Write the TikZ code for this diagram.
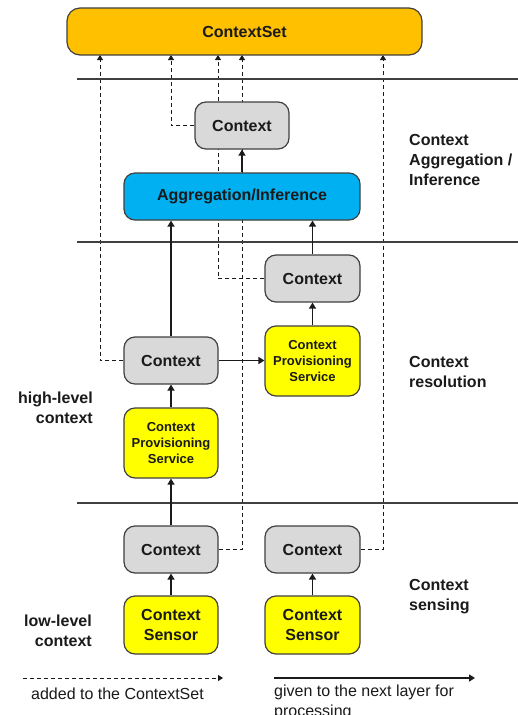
\documentclass[tikz,border=0pt]{standalone}
\usepackage{fontspec}
\setmainfont{Liberation Sans}
\usetikzlibrary{arrows.meta}
\pgfdeclarelayer{bg}
\pgfsetlayers{bg,main}

\definecolor{setorange}{HTML}{FFC000}
\definecolor{infblue}{HTML}{00B0F0}
\definecolor{ctxgray}{HTML}{D9D9D9}
\definecolor{svcyellow}{HTML}{FFFF00}
\definecolor{edge}{HTML}{404040}
\definecolor{ink}{HTML}{1A1A1A}

\tikzset{
  box/.style={draw=edge, line width=1.2pt, rounded corners=11pt, inner sep=0pt,
    align=center, text=ink, font=\fontsize{16}{19}\selectfont\bfseries},
  ctxbox/.style={box, fill=ctxgray, minimum width=94pt, minimum height=47pt},
  svcbox/.style={box, fill=svcyellow, minimum width=94pt, minimum height=70pt,
    font=\fontsize{13}{16}\selectfont\bfseries},
  sensbox/.style={box, fill=svcyellow, minimum width=94pt, minimum height=58pt,
    font=\fontsize{16}{20}\selectfont\bfseries},
  layerline/.style={draw=edge, line width=1.2pt},
  flow/.style={draw=ink, line width=1.6pt, -{Triangle[width=7pt,length=6pt]}},
  feed/.style={draw=ink, line width=0.9pt, dash pattern=on 4pt off 3pt,
    -{Triangle[width=6pt,length=5pt]}},
  lbl/.style={font=\fontsize{16}{20}\selectfont\bfseries, text=ink, inner sep=0pt},
  legend/.style={font=\fontsize{16}{20}\selectfont, text=ink, inner sep=0pt, align=left},
}

\begin{document}
\begin{tikzpicture}[x=1pt,y=-1pt]
\clip (0,0) rectangle (518,715);
\begin{pgfonlayer}{bg}
\fill[white] (0,0) rectangle (518,715);
\end{pgfonlayer}

% layer separators
\draw[layerline] (77,79) -- (518,79);
\draw[layerline] (77,242) -- (518,242);
\draw[layerline] (77,503) -- (518,503);

% boxes
\node[box, fill=setorange, minimum width=355pt, minimum height=47pt, rounded corners=13pt]
  (ctxSet) at (244.5,31.5) {ContextSet};
\node[ctxbox] (ctxTop) at (242,125.5) {Context};
\node[box, fill=infblue, minimum width=236pt, minimum height=47pt]
  (agg) at (242,196.5) {Aggregation/Inference};
\node[ctxbox, minimum width=95pt] (ctxR) at (312.5,278.5) {Context};
\node[svcbox, minimum width=95pt] (cpsR) at (312.5,361) {Context\\Provisioning\\Service};
\node[ctxbox] (ctxL) at (171,360.5) {Context};
\node[svcbox] (cpsL) at (171,443) {Context\\Provisioning\\Service};
\node[ctxbox] (ctxBL) at (171,549.5) {Context};
\node[ctxbox, minimum width=95pt] (ctxBR) at (312.5,549.5) {Context};
\node[sensbox] (sensL) at (171,625) {Context\\Sensor};
\node[sensbox, minimum width=95pt] (sensR) at (312.5,625) {Context\\Sensor};

% entry points on the ContextSet
\coordinate (inA) at (100,55);
\coordinate (inB) at (171,55);
\coordinate (inC) at (218,55);
\coordinate (inD) at (242,55);
\coordinate (inE) at (383,55);

% contexts added to the ContextSet (behind the boxes)
\begin{pgfonlayer}{bg}
\draw[feed] (ctxL.west) -| (inA);
\draw[feed] (ctxTop.west) -| (inB);
\draw[feed] (ctxR.west) -| (inC);
\draw[feed] (ctxBL.east) -| (inD);
\draw[feed] (ctxBR.east) -| (inE);
\end{pgfonlayer}

% contexts passed on for processing
\draw[flow] (sensL) -- (ctxBL);
\draw[flow] (sensR) -- (ctxBR);
\draw[flow] (ctxBL) -- (cpsL);
\draw[flow] (cpsL) -- (ctxL);
\draw[flow] (ctxL) -- (ctxL |- agg.south);
\draw[flow] (ctxL.east) -- (ctxL.east -| cpsR.west);
\draw[flow] (cpsR) -- (ctxR);
\draw[flow] (ctxR) -- (ctxR |- agg.south);
\draw[flow] (agg) -- (ctxTop);

% layer names
\node[lbl, anchor=west, align=left] (layAgg) at (409,160) {Context\\Aggregation /\\Inference};
\node[lbl, anchor=west, align=left] (layRes) at (409,372) {Context\\resolution};
\node[lbl, anchor=west, align=left] (laySens) at (409,597) {Context\\sensing};
\node[lbl, anchor=east, align=right] (hiLvl) at (93,408) {high-level\\context};
\node[lbl, anchor=east, align=right] (loLvl) at (92,631) {low-level\\context};

% legend
\coordinate (legA1) at (23,678);
\coordinate (legA2) at (223,678);
\coordinate (legB1) at (274,678);
\coordinate (legB2) at (475,678);
\draw[feed, line width=1pt] (legA1) -- (legA2);
\draw[flow] (legB1) -- (legB2);
\node[legend, anchor=west] (legAtxt) at (31,694) {added to the ContextSet};
\node[legend, anchor=north west] (legBtxt) at (274,685) {given to the next layer for\\processing};
\end{tikzpicture}
\end{document}
